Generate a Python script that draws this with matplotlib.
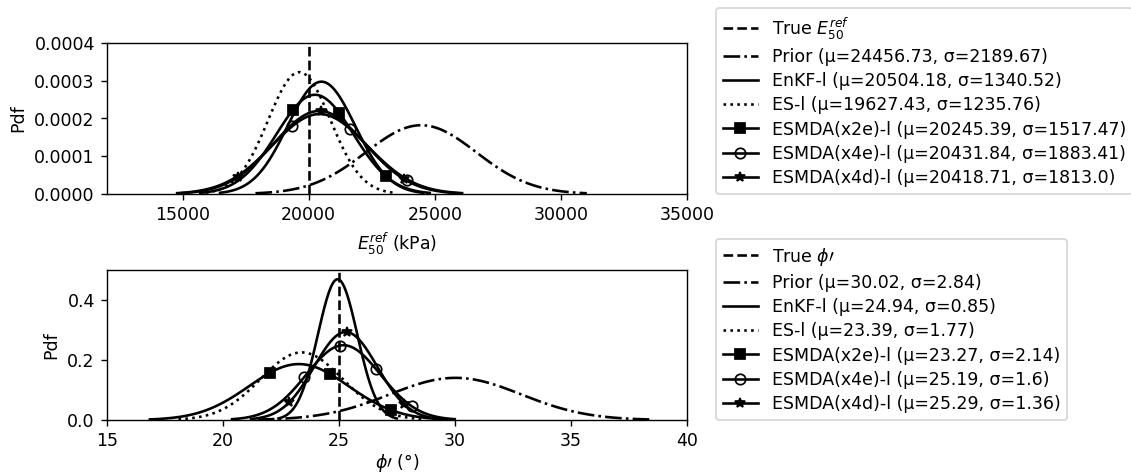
import numpy as np
import matplotlib
matplotlib.use("Agg")
import matplotlib.pyplot as plt

# ---- data ----
series_names = ["Prior", "EnKF-l", "ES-l", "ESMDA(x2e)-l", "ESMDA(x4e)-l", "ESMDA(x4d)-l"]
E50_mu = [24456.73, 20504.18, 19627.43, 20245.39, 20431.84, 20418.71]
E50_sigma = [2189.67, 1340.52, 1235.76, 1517.47, 1883.41, 1813.0]
E50_true = 20000
phi_mu = [30.02, 24.94, 23.39, 23.27, 25.19, 25.29]
phi_sigma = [2.84, 0.85, 1.77, 2.14, 1.6, 1.36]
phi_true = 25
E50_xticks = [15000, 20000, 25000, 30000, 35000]
E50_yticks = [0.0, 0.0001, 0.0002, 0.0003, 0.0004]
phi_xticks = [15, 20, 25, 30, 35, 40]
phi_yticks = [0.0, 0.2, 0.4]

styles = [
    dict(ls="-.", marker=None),
    dict(ls="-", marker=None),
    dict(ls=":", marker=None),
    dict(ls="-", marker="s"),
    dict(ls="-", marker="o", mfc="none"),
    dict(ls="-", marker="*"),
]
# marker placement (index slices on a 100-point curve), per panel
E50_markevery = [None, None, None, slice(40, 100, 20), slice(40, 100, 20), slice(20, 100, 30)]
phi_markevery = [None, None, None, slice(40, 100, 20), slice(32, 81, 16), slice(20, 100, 30)]

DPI = 125
fig = plt.figure(figsize=(1131 / DPI, 473 / DPI), dpi=DPI)
ax1 = fig.add_axes([107 / 1131, 1 - 194 / 473, 580 / 1131, 151 / 473])
ax2 = fig.add_axes([107 / 1131, 1 - 420 / 473, 580 / 1131, 150 / 473])


def draw(ax, mus, sigmas, true_val, true_label, marks):
    ax.axvline(true_val, color="k", ls="--", lw=1.5, label=true_label)
    for name, mu, sd, st, me in zip(series_names, mus, sigmas, styles, marks):
        x = np.linspace(mu - 3 * sd, mu + 3 * sd, 100)
        y = np.exp(-0.5 * ((x - mu) / sd) ** 2) / (sd * np.sqrt(2 * np.pi))
        kw = dict(color="k", lw=1.5, ls=st["ls"], label=f"{name} (μ={mu}, σ={sd})")
        if st["marker"]:
            kw.update(marker=st["marker"], markevery=me, ms=6)
            if "mfc" in st:
                kw.update(mfc=st["mfc"])
        ax.plot(x, y, **kw)
    ax.legend(loc="lower left", bbox_to_anchor=(1.05, 0), borderaxespad=0.0,
              labelspacing=0.36)
    ax.set_ylabel("Pdf")


draw(ax1, E50_mu, E50_sigma, E50_true, r"True $E_{50}^{ref}$", E50_markevery)
ax1.set_xlim(12000, 35000)
ax1.set_ylim(0, 0.0004)
ax1.set_xticks(E50_xticks)
ax1.set_yticks(E50_yticks)
ax1.yaxis.set_major_formatter(matplotlib.ticker.FormatStrFormatter("%.4f"))
ax1.set_xlabel(r"$E_{50}^{ref}$ (kPa)")

draw(ax2, phi_mu, phi_sigma, phi_true, r"True $\phi\prime$", phi_markevery)
ax2.set_xlim(15, 40)
ax2.set_ylim(0, 0.5)
ax2.set_xticks(phi_xticks)
ax2.set_yticks(phi_yticks)
ax2.yaxis.set_major_formatter(matplotlib.ticker.FormatStrFormatter("%.1f"))
ax2.set_xlabel(r"$\phi\prime$ (°)", labelpad=1)

fig.savefig("out.png", dpi=DPI)
